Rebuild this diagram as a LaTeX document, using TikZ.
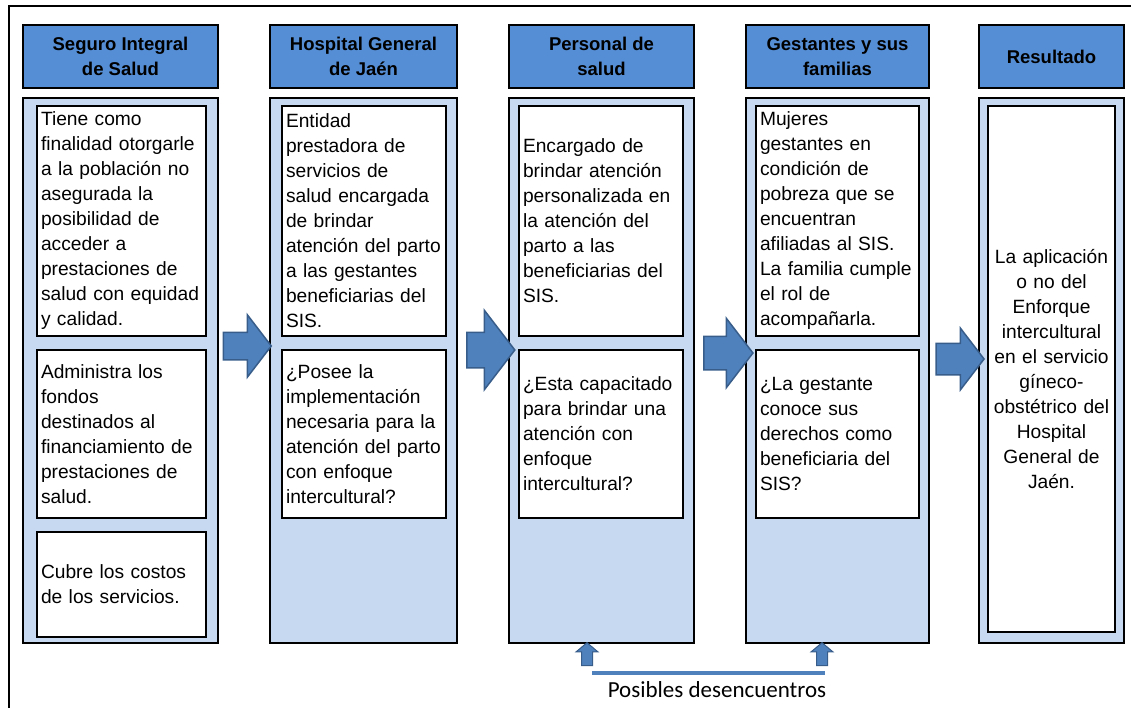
\documentclass[tikz,border=0pt]{standalone}
\usepackage{fontspec}
\setmainfont{Liberation Sans}
\newfontfamily\calibri{Carlito}
\usetikzlibrary{positioning,shapes.arrows}
\definecolor{cabecera}{RGB}{85,142,213}
\definecolor{fondo}{RGB}{198,217,241}
\definecolor{flechaazul}{RGB}{79,129,189}
\definecolor{bordeazul}{RGB}{56,93,138}
\tikzset{
  columna/.style={draw,line width=2pt,fill=fondo,inner sep=0pt,
    minimum height=545pt,anchor=north west},
  cabeza/.style={draw,line width=2pt,fill=cabecera,align=center,inner sep=0pt,
    minimum height=63pt,font=\bfseries\fontsize{18.5}{25}\selectfont},
  caja/.style={draw,line width=2pt,fill=white,align=left,inner xsep=4pt,
    inner ysep=0pt,anchor=north west,font=\fontsize{19.2}{25}\selectfont},
  flecha/.style 2 args={single arrow,draw=bordeazul,fill=flechaazul,
    line width=1.5pt,inner xsep=0pt,inner ysep=#1,text height=0pt,
    text depth=0pt,single arrow head extend=#2,single arrow tip angle=105},
  flechita/.style={single arrow,draw=bordeazul,fill=flechaazul,line width=1pt,
    inner xsep=5pt,inner ysep=0pt,text height=0pt,text depth=0pt,
    single arrow head extend=5.5pt,single arrow tip angle=100,
    minimum height=23pt,shape border rotate=90},
}
\begin{document}
\begin{tikzpicture}[x=1pt,y=-1pt]
\useasboundingbox (0,0) rectangle (1131,708);
\draw[line width=2pt] (9,708) -- (9,6) -- (1131,6);
% columnas
\node[columna,minimum width=195pt] (sis) at (22,97) {};
\node[columna,minimum width=187pt] (hgj) at (269,97) {};
\node[columna,minimum width=185pt] (pers) at (508,97) {};
\node[columna,minimum width=183pt] (gest) at (745,97) {};
\node[columna,minimum width=145pt] (res) at (978,97) {};
\node[cabeza,minimum width=195pt,above=8pt of sis] (sisT) {Seguro Integral\\de Salud};
\node[cabeza,minimum width=187pt,above=8pt of hgj] (hgjT) {Hospital General\\de Jaén};
\node[cabeza,minimum width=185pt,above=8pt of pers] (persT) {Personal de\\salud};
\node[cabeza,minimum width=183pt,above=8pt of gest] (gestT) {Gestantes y sus\\familias};
\node[cabeza,minimum width=145pt,above=8pt of res] (resT) {Resultado};
% cajas
\node[caja,text width=161pt,minimum height=230pt] (sis1) at (36,105)
  {Tiene como\\finalidad otorgarle\\a la población no\\asegurada la\\posibilidad de\\
   acceder a\\prestaciones de\\salud con equidad\\y calidad.};
\node[caja,text width=161pt,minimum height=168pt,below=12pt of sis1] (sis2)
  {Administra los\\fondos\\destinados al\\financiamiento de\\prestaciones de\\salud.};
\node[caja,text width=161pt,minimum height=105pt,below=12pt of sis2] (sis3)
  {Cubre los costos\\de los servicios.};
\node[caja,text width=156pt,minimum height=230pt] (hgj1) at (281,105)
  {Entidad\\prestadora de\\servicios de\\salud encargada\\de brindar\\
   atención del parto\\a las gestantes\\beneficiarias del\\SIS.};
\node[caja,text width=156pt,minimum height=168pt,below=12pt of hgj1] (hgj2)
  {¿Posee la\\implementación\\necesaria para la\\atención del parto\\con enfoque\\intercultural?};
\node[caja,text width=156pt,minimum height=230pt] (pers1) at (518,105)
  {Encargado de\\brindar atención\\personalizada en\\la atención del\\parto a las\\
   beneficiarias del\\SIS.};
\node[caja,text width=156pt,minimum height=168pt,below=12pt of pers1] (pers2)
  {¿Esta capacitado\\para brindar una\\atención con\\enfoque\\intercultural?};
\node[caja,text width=155pt,minimum height=230pt] (gest1) at (755,105)
  {Mujeres\\gestantes en\\condición de\\pobreza que se\\encuentran\\
   afiliadas al SIS.\\La familia cumple\\el rol de\\acompañarla.};
\node[caja,text width=155pt,minimum height=168pt,below=12pt of gest1] (gest2)
  {¿La gestante\\conoce sus\\derechos como\\beneficiaria del\\SIS?};
\node[caja,text width=119pt,minimum height=526pt,align=center] (res1) at (987,105)
  {La aplicación\\o no del\\Enforque\\intercultural\\en el servicio\\gíneco-\\
   obstétrico del\\Hospital\\General de\\Jaén.};
% flechas
\node[flecha={13pt}{17.5pt},minimum height=48pt] (f1) at (242,346) {};
\node[flecha={17pt}{22pt},minimum height=48pt] (f2) at (484,350) {};
\node[flecha={16pt}{18pt},minimum height=49pt] (f3) at (722,353) {};
\node[flecha={15pt}{15pt},minimum height=48pt] (f4) at (954,359) {};
% desencuentros
\node[flechita] (d1) at (587,656.5) {};
\node[flechita] (d2) at (822,656.5) {};
\coordinate (l1) at (592,673);
\coordinate (l2) at (825,673);
\draw[line width=3.5pt,flechaazul] (l1) -- (l2);
\node[anchor=base,font=\calibri\fontsize{23}{28}\selectfont] (posibles)
  at (717,697) {Posibles desencuentros};
\end{tikzpicture}
\end{document}
